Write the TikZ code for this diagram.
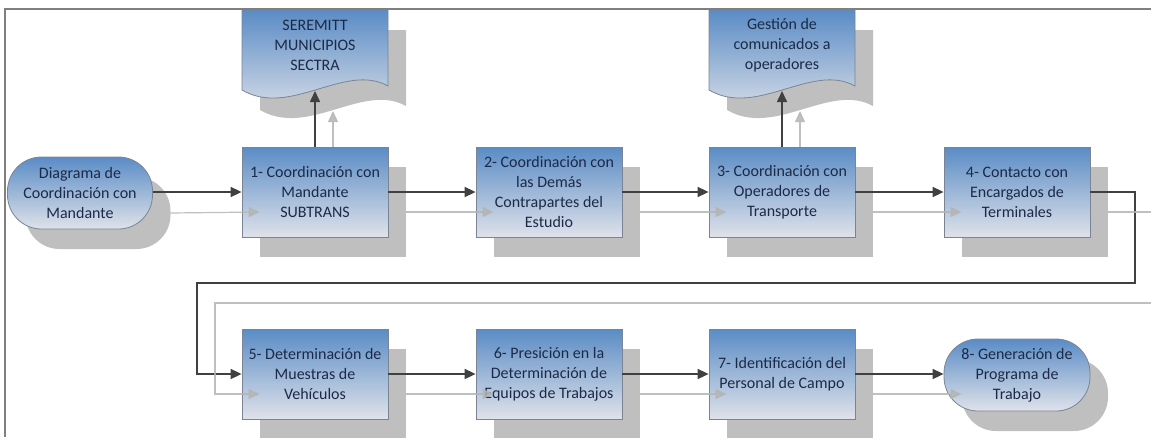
\documentclass[tikz,border=0pt]{standalone}
\usepackage{fontspec}
\setmainfont{Carlito}
\usetikzlibrary{arrows.meta,shadows}

\definecolor{boxtop}{HTML}{5A8CC5}
\definecolor{boxbottom}{HTML}{DFE2EA}
\definecolor{boxline}{HTML}{7A8494}
\definecolor{boxtext}{HTML}{1C2A47}
\definecolor{shadowgray}{HTML}{BFBFBF}
\definecolor{flowdark}{HTML}{404040}
\definecolor{flowlight}{HTML}{B4B4B4}
\definecolor{framegray}{HTML}{7F7F7F}

\tikzset{
  proc/.style={rectangle, draw=boxline, line width=0.8pt,
    top color=boxtop, bottom color=boxbottom,
    minimum width=146pt, minimum height=90pt, inner sep=1pt,
    align=center, text=boxtext, font=\fontsize{16}{20}\selectfont,
    drop shadow={shadow xshift=18pt, shadow yshift=-20pt, fill=shadowgray, opacity=1}},
  term/.style={proc, rounded corners=34pt, minimum height=72pt},
  doctext/.style={align=center, text=boxtext, font=\fontsize{16}{20}\selectfont},
  docshape/.style={draw=boxline, line width=0.8pt, top color=boxtop, bottom color=boxbottom},
  flow/.style={draw=flowdark, line width=1.6pt, -{Triangle[length=11pt,width=10pt]}},
  flowshadow/.style={draw=flowlight, line width=1.2pt, opacity=0.85,
    -{Triangle[length=11pt,width=10pt]}},
}

\begin{document}
\begin{tikzpicture}[x=1pt, y=-1pt]
\useasboundingbox (0,0) rectangle (1151,437);

\coordinate (P1) at (315,192);
\coordinate (P2) at (549,192);
\coordinate (P3) at (782,192);
\coordinate (P4) at (1017,192);
\coordinate (P5) at (315,374);
\coordinate (P6) at (549,374);
\coordinate (P7) at (782,374);
\coordinate (P8) at (1017,375);
\coordinate (r1) at (1135,283);
\coordinate (l1) at (197,283);
\coordinate (d1tip) at (315,91);
\coordinate (d2tip) at (782,91);

% documents
\foreach \dx in {0,467}{
  \fill[shadowgray, shift={(18+\dx,20)}] (242,10) -- (388,10) -- (388,86)
    .. controls (345,62) and (290,118) .. (242,90) -- cycle;
  \shadedraw[docshape, shift={(\dx,0)}] (242,10) -- (388,10) -- (388,86)
    .. controls (345,62) and (290,118) .. (242,90) -- cycle;
}
\node[doctext] (d1) at (315,45) {SEREMITT\\MUNICIPIOS\\SECTRA};
\node[doctext] (d2) at (782,45) {Gestión de\\comunicados a\\operadores};

% steps
\node[term, minimum width=145pt] (start) at (80,193) {Diagrama de\\Coordinación con\\Mandante};
\node[proc] (b1) at (P1) {1- Coordinación con\\Mandante\\SUBTRANS};
\node[proc] (b2) at (P2) {2- Coordinación con\\las Demás\\Contrapartes del\\Estudio};
\node[proc] (b3) at (P3) {3- Coordinación con\\Operadores de\\Transporte};
\node[proc] (b4) at (P4) {4- Contacto con\\Encargados de\\Terminales};
\node[proc] (b5) at (P5) {5- Determinación de\\Muestras de\\Vehículos};
\node[proc] (b6) at (P6) {6- Presición en la\\Determinación de\\Equipos de Trabajos};
\node[proc] (b7) at (P7) {7- Identificación del\\Personal de Campo};
\node[term] (end) at (P8) {8- Generación de\\Programa de\\Trabajo};

% connectors
\draw[flow] (start.east |- b1.west) -- (b1.west);
\draw[flow] (b1) -- (b2);
\draw[flow] (b2) -- (b3);
\draw[flow] (b3) -- (b4);
\draw[flow] (b4.east) -| (r1) -- (l1) |- (b5.west);
\draw[flow] (b5) -- (b6);
\draw[flow] (b6) -- (b7);
\draw[flow] (b7.east) -- (b7.east -| end.west);
\draw[flow] (b1.north) -- (d1tip);
\draw[flow] (b3.north) -- (d2tip);

% connector shadows
\draw[flowshadow] ([shift={(18,20)}]start.east) -- ([shift={(18,20)}]b1.west);
\draw[flowshadow] ([shift={(18,20)}]b1.east) -- ([shift={(18,20)}]b2.west);
\draw[flowshadow] ([shift={(18,20)}]b2.east) -- ([shift={(18,20)}]b3.west);
\draw[flowshadow] ([shift={(18,20)}]b3.east) -- ([shift={(18,20)}]b4.west);
\draw[flowshadow] ([shift={(18,20)}]b4.east) -| ([shift={(18,20)}]r1)
  -- ([shift={(18,20)}]l1) |- ([shift={(18,20)}]b5.west);
\draw[flowshadow] ([shift={(18,20)}]b5.east) -- ([shift={(18,20)}]b6.west);
\draw[flowshadow] ([shift={(18,20)}]b6.east) -- ([shift={(18,20)}]b7.west);
\draw[flowshadow] ([shift={(18,20)}]b7.east) -- ([shift={(18,20)}]b7.east -| end.west);
\draw[flowshadow] ([xshift=18pt]b1.north) -- ([shift={(18,20)}]d1tip);
\draw[flowshadow] ([xshift=18pt]b3.north) -- ([shift={(18,20)}]d2tip);

% frame
\draw[framegray, line width=1.4pt] (5,437) -- (5,9) -- (1151,9);

\end{tikzpicture}
\end{document}
